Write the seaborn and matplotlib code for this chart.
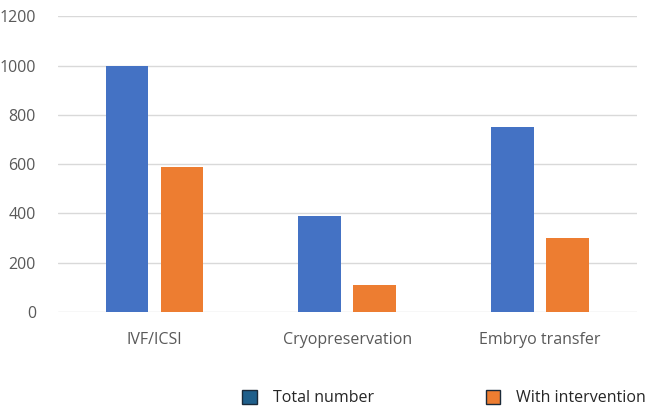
import matplotlib
matplotlib.use("Agg")
import matplotlib.pyplot as plt
from matplotlib.patches import Patch
import seaborn as sns
import pandas as pd

categories = ["IVF/ICSI", "Cryopreservation", "Embryo transfer"]
total_number = [1000, 390, 750]
with_intervention = [590, 110, 300]
series_names = ["Total number", "With intervention"]

df = pd.DataFrame({
    "category": categories * 2,
    "series": [series_names[0]] * 3 + [series_names[1]] * 3,
    "value": total_number + with_intervention,
})

sns.set_style("white")
plt.rcParams["font.family"] = ["Open Sans", "DejaVu Sans"]

fig = plt.figure(figsize=(6.53, 4.15), dpi=100)
ax = fig.add_axes([0.089, 0.248, 0.886, 0.713])

sns.barplot(data=df, x="category", y="value", hue="series",
            palette=["#4472C4", "#ED7D31"], saturation=1,
            width=0.57, gap=0.22, linewidth=0, edgecolor="none",
            legend=False, ax=ax)

ax.set_ylim(0, 1200)
ax.set_xlim(-0.5, 2.5)
ax.set_yticks(range(0, 1201, 200))
ax.yaxis.grid(True, color="#d9d9d9", linewidth=1)
ax.set_axisbelow(True)
for s in ax.spines.values():
    s.set_visible(False)
ax.tick_params(axis="both", length=0, colors="#595959", labelsize=11.5)
ax.tick_params(axis="y", pad=16)
ax.tick_params(axis="x", pad=14)
ax.set_xlabel("")
ax.set_ylabel("")

handles = [Patch(facecolor="#1F5F8B", edgecolor="#1a2a3a", linewidth=1),
           Patch(facecolor="#ED7D31", edgecolor="#1a2a3a", linewidth=1)]
fig.legend(handles, series_names, loc="center", bbox_to_anchor=(0.68, 0.04),
           ncol=2, frameon=False, fontsize=11.5, columnspacing=7.0,
           handlelength=0.9, handleheight=0.9, handletextpad=1.0,
           labelcolor="#262626")

fig.savefig("out.png", dpi=100)
